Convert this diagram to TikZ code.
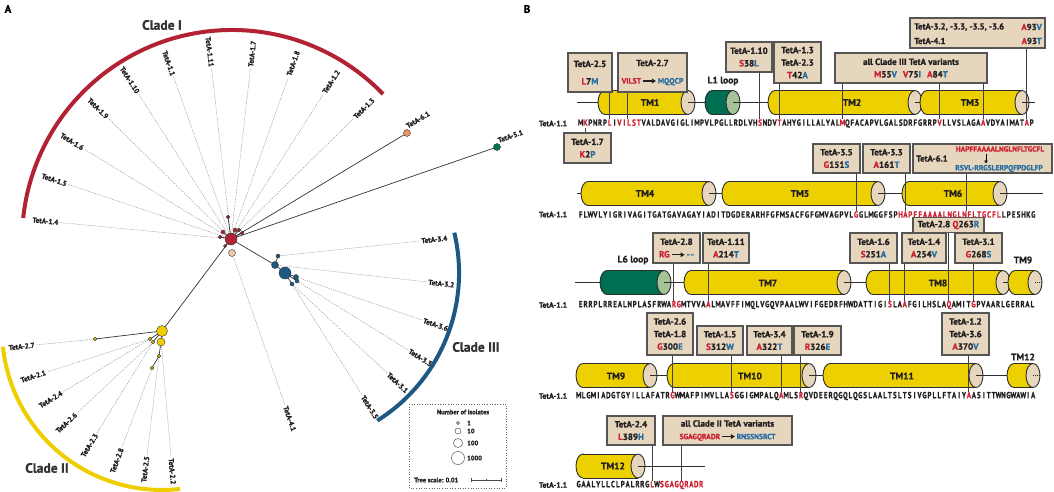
\documentclass[tikz,border=0pt]{standalone}
\usepackage{fontspec}
\setmainfont{PT Sans}[BoldFont={PT Sans Bold}, BoldFeatures={FakeBold=1.2}]
\usepackage{graphicx}
\usetikzlibrary{arrows.meta,calc}
\definecolor{boxfill}{RGB}{230,214,190}
\definecolor{boxdraw}{RGB}{85,85,85}
\definecolor{cyldraw}{RGB}{45,45,45}
\definecolor{tmyellow}{RGB}{237,208,0}
\definecolor{tmend}{RGB}{230,214,190}
\definecolor{loopgreen}{RGB}{0,110,80}
\definecolor{loopend}{RGB}{165,195,150}
\definecolor{mutred}{RGB}{205,32,50}
\definecolor{mutblue}{RGB}{40,110,160}
\definecolor{cladeI}{RGB}{178,34,52}
\definecolor{cladeII}{RGB}{238,206,0}
\definecolor{cladeIII}{RGB}{28,88,130}
\definecolor{textdark}{RGB}{35,31,32}
\definecolor{treegray}{RGB}{150,150,150}
\definecolor{nodeorange}{RGB}{232,150,100}
\definecolor{nodegreen}{RGB}{0,120,80}
\definecolor{nodetan}{RGB}{236,205,170}
\newcommand\mutR[1]{\textcolor{mutred}{#1}}
\newcommand\mutB[1]{\textcolor{mutblue}{#1}}
\newcommand\harr{\tikz[baseline=-2.6pt,x=1pt,y=1pt]\draw[line width=1.1pt,-{Triangle[length=4pt,width=4.5pt]}] (0,0)--(13,0);}
\newlength\seqcw
\newcommand\seqchar[1]{\makebox[\seqcw][c]{\scalebox{0.78}[1]{\ifnum`#1>`Z\relax\textcolor{mutred}{\uppercase{#1}}\else#1\fi}}}
\def\seqloop#1{\ifx#1\relax\else\seqchar{#1}\expandafter\seqloop\fi}
\newcommand\seqtext[2]{\setlength\seqcw{#1pt}\seqloop#2\relax}
% cylinder: #1 left x, #2 end-ellipse centre x, #3 centre y, #4 body colour, #5 end colour, #6 inner line style
\newcommand\tmcyl[6]{%
  \filldraw[fill=#4, draw=cyldraw, line width=0.9pt] ({#1+7},#3) ellipse [x radius=7, y radius=12];
  \fill[#4] ({#1+7},{#3-12}) rectangle (#2,{#3+12});
  \draw[cyldraw, line width=0.9pt] ({#1+7},{#3-12}) -- (#2,{#3-12}) ({#1+7},{#3+12}) -- (#2,{#3+12});
  \filldraw[fill=#5, draw=cyldraw, line width=0.9pt] (#2,#3) ellipse [x radius=7, y radius=12];
  \draw[cyldraw, line width=0.9pt, #6] (#2,#3) -- ({#2+7},#3);
}
\begin{document}
\begin{tikzpicture}[x=1pt,y=-1pt,
  mbox/.style={draw=boxdraw, fill=boxfill, line width=1.1pt, inner sep=0pt, align=center, text=textdark, font=\fontsize{9}{12.5}\selectfont\bfseries},
  boxtext/.style={inner sep=0pt, text=textdark, font=\fontsize{8.7}{10}\selectfont\bfseries},
  mutline/.style={draw=black!75, line width=0.9pt},
  seqline/.style={draw=cyldraw, line width=0.9pt},
  seqnode/.style={inner sep=0pt, anchor=west, text=textdark, font=\fontsize{8.8}{9}\selectfont\bfseries},
  rowlab/.style={inner sep=0pt, text=textdark, font=\fontsize{7.8}{9}\selectfont\bfseries},
  tmlab/.style={inner sep=0pt, text=textdark, font=\fontsize{9.5}{10}\selectfont\bfseries},
  leaf/.style={draw=treegray, line width=0.5pt, dash pattern=on 1.2pt off 1.1pt},
  leaflab/.style={inner sep=1.2pt, text=textdark, font=\fontsize{7.2}{8}\selectfont\bfseries},
  branch/.style={draw=black!80, line width=0.7pt},
  tnode/.style={circle, draw=black!80, line width=0.4pt, inner sep=0pt},
  cladelab/.style={inner sep=0pt, text=black!80, font=\fontsize{13.5}{16}\selectfont\bfseries},
  legfont/.style={inner sep=0pt, text=textdark, font=\fontsize{6.5}{7}\selectfont\bfseries},
]
\useasboundingbox (0,0) rectangle (1054,492);
\node[inner sep=0pt, font=\fontsize{11}{13}\selectfont\bfseries] (pA) at (8,9) {A};
\node[inner sep=0pt, font=\fontsize{11}{13}\selectfont\bfseries] (pB) at (527,9) {B};

%%%%%%%%%%%%%%%% PANEL A %%%%%%%%%%%%%%%%
\draw[cladeI, line width=4pt] (383.1,94.1) arc[start angle=-44, end angle=-174, radius=210];
\draw[cladeIII, line width=4pt] (454.3,232.7) arc[start angle=-13.4, end angle=58, radius=174];
\draw[cladeII, line width=4pt] (2.9,346.7) arc[start angle=-186, end angle=-276.5, radius=160];
\node[cladelab] (cl1) at (162,25) {Clade I};
\node[cladelab] (cl2) at (47,468) {Clade II};
\node[cladelab] (cl3) at (476,347) {Clade III};

\coordinate (C) at (231,239);
\coordinate (n61) at (407,133);
\coordinate (n51) at (497,147);
\coordinate (tan) at (232,253);
\coordinate (bl1) at (278,256);
\coordinate (bl2) at (275,265);
\coordinate (bl3) at (285,273);
\coordinate (bl4) at (296,277);
\coordinate (bl5) at (297,281);
\coordinate (bl6) at (292,284);
\coordinate (y0) at (162,331);
\coordinate (y1) at (161,342);
\coordinate (y2) at (150,339);
\coordinate (y3) at (153,342);
\coordinate (y4) at (159,356);
\coordinate (y5) at (152,368);
\coordinate (y6) at (95,339);

\foreach \a/\t [count=\i] in {174.5/1.4, 161.5/1.5, 148.5/1.6, 135.5/1.9, 122.5/1.10, 109.5/1.1, 96.5/1.11}
  \draw[leaf] (C) -- ++({172*cos(\a)},{-172*sin(\a)}) node[pos=1, sloped, anchor=east, leaflab] (lI\i) {TetA-\t};
\foreach \a/\t [count=\i] in {83.5/1.7, 70.5/1.8, 57.5/1.2, 44.5/1.3}
  \draw[leaf] (C) -- ++({172*cos(\a)},{-172*sin(\a)}) node[pos=1, sloped, anchor=west, leaflab] (lIr\i) {TetA-\t};
\draw[leaf] (bl1) -- (420,241) node[pos=1, sloped, anchor=west, leaflab] (l34) {TetA-3.4};
\draw[leaf] (bl2) -- (427,282) node[pos=1, sloped, anchor=west, leaflab] (l32) {TetA-3.2};
\draw[leaf] (bl4) -- (422,320) node[pos=1, sloped, anchor=west, leaflab] (l36) {TetA-3.6};
\draw[leaf] (bl5) -- (408,350) node[pos=1, sloped, anchor=west, leaflab] (l33) {TetA-3.3};
\draw[leaf] (bl6) -- (387,373) node[pos=1, sloped, anchor=west, leaflab] (l31) {TetA-3.1};
\draw[leaf] (bl6) -- (362,395) node[pos=1, sloped, anchor=west, leaflab] (l35) {TetA-3.5};
\draw[leaf] (tan) -- (285,405) node[pos=1, sloped, anchor=west, leaflab] (l41) {TetA-4.1};
\draw[leaf] (y6) -- (36,345) node[pos=1, sloped, anchor=east, leaflab] (l27) {TetA-2.7};
\draw[leaf] (y2) -- (47,372) node[pos=1, sloped, anchor=east, leaflab] (l21) {TetA-2.1};
\draw[leaf] (y2) -- (63,392) node[pos=1, sloped, anchor=east, leaflab] (l24) {TetA-2.4};
\draw[leaf] (y3) -- (77,413) node[pos=1, sloped, anchor=east, leaflab] (l26) {TetA-2.6};
\draw[leaf] (y3) -- (97,433) node[pos=1, sloped, anchor=east, leaflab] (l23) {TetA-2.3};
\draw[leaf] (y5) -- (122,447) node[pos=1, sloped, anchor=east, leaflab] (l28) {TetA-2.8};
\draw[leaf] (y4) -- (147,455) node[pos=1, sloped, anchor=east, leaflab] (l25) {TetA-2.5};
\draw[leaf] (y1) -- (171,457) node[pos=1, sloped, anchor=west, leaflab] (l22) {TetA-2.2};

\draw[branch] (C) -- (n61);
\draw[branch] (C) -- (n51);
\draw[branch] (C) -- (bl2) -- (bl3);
\draw[branch] (bl2) -- (bl1);
\draw[branch] (bl3) -- (bl4) (bl3) -- (bl5) (bl3) -- (bl6);
\draw[branch] (C) -- (y0);
\draw[branch] (y6) -- (y0);
\draw[branch] (y0) -- (y2) (y0) -- (y3) (y0) -- (y1) -- (y4) -- (y5);
\draw[branch] (C) -- (228,217) (C) -- (223,232) (C) -- (220,237) (C) -- (235,230) (C) -- (239,230) (C) -- (242,233) (C) -- (225,246);

\node[tnode, fill=cladeI, minimum size=3.5pt] (rd1) at (228,217) {};
\node[tnode, fill=cladeI, minimum size=4pt] (rd2) at (223,232) {};
\node[tnode, fill=cladeI, minimum size=3.5pt] (rd3) at (220,237) {};
\node[tnode, fill=cladeI, minimum size=4pt] (rd4) at (235,230) {};
\node[tnode, fill=cladeI, minimum size=3.5pt] (rd5) at (239,230) {};
\node[tnode, fill=cladeI, minimum size=3.5pt] (rd6) at (242,233) {};
\node[tnode, fill=cladeI, minimum size=3pt] (rd7) at (225,246) {};
\node[tnode, fill=cladeI, minimum size=12pt] (rd0) at (C) {};
\node[tnode, fill=nodetan, minimum size=7pt] (ntan) at (tan) {};
\node[tnode, fill=nodeorange, minimum size=7pt] (n61n) at (n61) {};
\node[tnode, fill=nodegreen, minimum size=7pt] (n51n) at (n51) {};
\node[leaflab, anchor=south west, rotate=30.8, inner sep=3pt] (l61) at (n61) {TetA-6.1};
\node[leaflab, anchor=south west, rotate=18.9, inner sep=3pt] (l51) at (n51) {TetA-5.1};
\node[tnode, fill=cladeIII, minimum size=4pt] (bl1n) at (bl1) {};
\node[tnode, fill=cladeIII, minimum size=7pt] (bl2n) at (bl2) {};
\node[tnode, fill=cladeIII, minimum size=12pt] (bl3n) at (bl3) {};
\node[tnode, fill=cladeIII, minimum size=5pt] (bl4n) at (bl4) {};
\node[tnode, fill=cladeIII, minimum size=4pt] (bl5n) at (bl5) {};
\node[tnode, fill=cladeIII, minimum size=4pt] (bl6n) at (bl6) {};
\node[tnode, fill=cladeII, minimum size=11pt] (y0n) at (y0) {};
\node[tnode, fill=cladeII, minimum size=8pt] (y1n) at (y1) {};
\node[tnode, fill=cladeII, minimum size=3.5pt] (y2n) at (y2) {};
\node[tnode, fill=cladeII, minimum size=3.5pt] (y3n) at (y3) {};
\node[tnode, fill=cladeII, minimum size=3.5pt] (y4n) at (y4) {};
\node[tnode, fill=cladeII, minimum size=3.5pt] (y5n) at (y5) {};
\node[tnode, fill=cladeII, minimum size=3.5pt] (y6n) at (y6) {};

\draw[black!60, line width=0.6pt, dotted] (409,404) rectangle (506,488);
\node[legfont] (legt) at (463,412) {Number of isolates};
\node[tnode, fill=white, minimum size=3pt] (lg1) at (458,423) {};
\node[tnode, fill=white, minimum size=6pt] (lg2) at (458,431) {};
\node[tnode, fill=white, minimum size=9pt] (lg3) at (458,443) {};
\node[tnode, fill=white, minimum size=13pt] (lg4) at (458,458) {};
\node[legfont, anchor=west] (lg1t) at (467,423) {1};
\node[legfont, anchor=west] (lg2t) at (467,431) {10};
\node[legfont, anchor=west] (lg3t) at (467,443) {100};
\node[legfont, anchor=west] (lg4t) at (467,458) {1000};
\node[legfont, anchor=west] (tsc) at (414,480) {Tree scale: 0.01};
\coordinate (sb1) at (471,480);
\coordinate (sb2) at (501,480);
\draw[black!70, line width=0.6pt] (sb1) -- (sb2) (sb1) ++(0,-2) -- ++(0,4) (sb2) ++(0,-2) -- ++(0,4) (486,479) -- (486,481);

%%%%%%%%%%%%%%%% PANEL B %%%%%%%%%%%%%%%%
\coordinate (w1a) at (577,102.5); \coordinate (w1b) at (1035,102.5);
\draw[seqline] (w1a) -- (w1b);
\tmcyl{598}{688}{102.5}{tmyellow}{tmend}{solid}
\tmcyl{705}{733}{102.5}{loopgreen}{loopend}{solid}
\tmcyl{768}{915}{102.5}{tmyellow}{tmend}{solid}
\tmcyl{920}{1022}{102.5}{tmyellow}{tmend}{solid}
\node[tmlab] (tm1) at (650,102.5) {TM1};
\node[tmlab] (lp1) at (723,81) {L1 loop};
\node[tmlab] (tm2) at (852,102.5) {TM2};
\node[tmlab] (tm3) at (970,102.5) {TM3};
\node[rowlab] (rl1) at (553,123.5) {TetA-1.1};
\node[seqnode] (s1) at (578,123.5) {\seqtext{4.85}{MkPNRPlIvilstVALDAVGIGLIMPVLPGLLRDLVHsNDVtAHYGILLALYALmQFACAPVLGALSDRFGRRPvLLVSLAGAaVDYAIMATaP}};
\coordinate (r1K2) at ({578+1.5*4.85},128);
\coordinate (r1L7) at ({578+6.5*4.85},119.5);
\coordinate (r1VI) at (627,119.5);
\coordinate (r1S38) at ({578+37.5*4.85},119.5);
\coordinate (r1T42) at ({578+41.5*4.85},119.5);
\coordinate (r1M55) at ({578+54.5*4.85},119.5);
\coordinate (r1V75) at ({578+74.5*4.85},119.5);
\coordinate (r1A84) at ({578+83.5*4.85},119.5);
\coordinate (r1A93) at ({578+92.5*4.85},119.5);
\node[mbox, minimum width=44pt, minimum height=39pt] (b25) at (590,72.5) {TetA-2.5\\[5pt]\mutR{L}7\mutB{M}};
\node[mbox, minimum width=69pt, minimum height=39pt] (b27) at (652.5,72.5) {TetA-2.7\\[5pt]{\fontsize{7.8}{9}\selectfont\mutR{VILST}\,\harr\,\mutB{MQQCP}}};
\node[mbox, minimum width=46pt, minimum height=30pt] (b110) at (749,57) {TetA-1.10\\\mutR{S}38\mutB{L}};
\node[mbox, minimum width=47pt, minimum height=41pt] (b13) at (797.5,62.5) {TetA-1.3\\TetA-2.3\\\mutR{T}42\mutB{A}};
\node[mbox, minimum width=152pt, minimum height=30pt] (bC3) at (911,68) {all Clade III TetA variants\\\mutR{M}55\mutB{V}\hspace{6pt}\mutR{V}75\mutB{I}\hspace{6pt}\mutR{A}84\mutB{T}};
\node[mbox, minimum width=135pt, minimum height=30pt] (bA93) at (977.5,33) {};
\node[boxtext, anchor=west] (ta1) at (914,27) {TetA-3.2, -3.3, -3.5, -3.6};
\node[boxtext, anchor=east] (ta2) at (1042,27) {\mutR{A}93\mutB{V}};
\node[boxtext, anchor=west] (ta3) at (914,41) {TetA-4.1};
\node[boxtext, anchor=east] (ta4) at (1042,41) {\mutR{A}93\mutB{T}};
\node[mbox, minimum width=47pt, minimum height=30pt] (b17) at (587.5,148) {TetA-1.7\\\mutR{K}2\mutB{P}};
\draw[mutline] (r1L7 |- b25.south) -- (r1L7);
\draw[mutline] (r1VI |- b27.south) -- (r1VI);
\draw[mutline] (r1S38 |- b110.south) -- (r1S38);
\draw[mutline] (r1T42 |- b13.south) -- (r1T42);
\draw[mutline] (r1M55 |- bC3.south) -- (r1M55);
\draw[mutline] (r1V75 |- bC3.south) -- (r1V75);
\draw[mutline] (r1A84 |- bC3.south) -- (r1A84);
\draw[mutline] (r1A93 |- bA93.south) -- (r1A93);
\draw[mutline] (r1K2 |- b17.north) -- (r1K2);

\coordinate (w2a) at (577,193.5); \coordinate (w2b) at (1043,193.5);
\draw[seqline] (w2a) -- (w2b);
\tmcyl{581}{709}{193.5}{tmyellow}{tmend}{solid}
\tmcyl{722}{878}{193.5}{tmyellow}{tmend}{solid}
\tmcyl{902}{1000}{193.5}{tmyellow}{tmend}{solid}
\node[tmlab] (tm4) at (645,193.5) {TM4};
\node[tmlab] (tm5) at (800,193.5) {TM5};
\node[tmlab] (tm6) at (953,193.5) {TM6};
\node[rowlab] (rl2) at (553,214.5) {TetA-1.1};
\node[seqnode] (s2) at (578,214.5) {\seqtext{4.92}{FLWVLYIGRIVAGITGATGAVAGAYIADITDGDERARHFGFMSACFGFGMVAGPVLgGLMGGFSPhapffaaaalnglnfltgcflLPESHKG}};
\coordinate (r2G151) at ({578+56.5*4.92},210.5);
\coordinate (r2A161) at ({578+66.5*4.92},210.5);
\coordinate (r2HAP) at (966,210.5);
\node[mbox, minimum width=47pt, minimum height=29pt] (b35) at (836.5,158.5) {TetA-3.5\\\mutR{G}151\mutB{S}};
\node[mbox, minimum width=47pt, minimum height=29pt] (b33) at (886.5,158.5) {TetA-3.3\\\mutR{A}161\mutB{T}};
\node[mbox, minimum width=139pt, minimum height=29pt] (b61) at (982.5,158.5) {};
\node[boxtext] (t61) at (932,158.5) {TetA-6.1};
\node[boxtext, font=\fontsize{7.5}{8}\selectfont\bfseries, text=mutred] (t61a) at (1000,149) {HAPFFAAAALNGLNFLTGCFL};
\node[boxtext, font=\fontsize{7.5}{8}\selectfont\bfseries, text=mutblue] (t61b) at (999,168.5) {RSVL-RRGSLERPQFPDGLFP};
\coordinate (a61a) at (986,153.5); \coordinate (a61b) at (986,163.5);
\draw[line width=0.8pt, -{Triangle[length=3pt,width=3.5pt]}] (a61a) -- (a61b);
\draw[mutline] (r2G151 |- b35.south) -- (r2G151);
\draw[mutline] (r2A161 |- b33.south) -- (r2A161);
\draw[mutline] (r2HAP |- b61.south) -- (r2HAP);

\coordinate (w3a) at (575,282.5); \coordinate (w3b) at (1035,282.5);
\draw[seqline] (w3a) -- (w3b);
\tmcyl{600}{664}{282.5}{loopgreen}{loopend}{solid}
\tmcyl{684}{844}{282.5}{tmyellow}{tmend}{solid}
\tmcyl{866}{1003}{282.5}{tmyellow}{tmend}{solid}
\tmcyl{1008}{1035}{282.5}{tmyellow}{tmend}{densely dotted}
\node[tmlab] (lp6) at (633,260) {L6 loop};
\node[tmlab] (tm7) at (768,283) {TM7};
\node[tmlab] (tm8) at (938,283) {TM8};
\node[tmlab] (tm9a) at (1023,260) {TM9};
\node[rowlab] (rl3) at (553,305) {TetA-1.1};
\node[seqnode] (s3) at (578,305) {\seqtext{4.91}{ERRPLRREALNPLASFRWArgMTVVAaLMAVFFIMQLVGQVPAALWVIFGEDRFHWDATTIGIsLAaFGILHSLAqAMITgPVAARLGERRAL}};
\coordinate (r3RG) at ({578+19.5*4.91},301);
\coordinate (r3A214) at ({578+26.5*4.91},301);
\coordinate (r3S251) at ({578+63.5*4.91},301);
\coordinate (r3A254) at ({578+66.5*4.91},301);
\coordinate (r3Q263) at ({578+75.5*4.91},301);
\coordinate (r3G268) at ({578+80.5*4.91},301);
\node[mbox, minimum width=71pt, minimum height=15pt] (b28b) at (948.5,225) {TetA-2.8 \mutR{Q}263\mutB{R}};
\node[mbox, minimum width=47pt, minimum height=30pt] (b28) at (676.5,248) {TetA-2.8\\\mutR{RG}\,\harr\,\mutB{-\kern0.8pt-}};
\node[mbox, minimum width=46pt, minimum height=30pt] (b111) at (726,248) {TetA-1.11\\\mutR{A}214\mutB{T}};
\node[mbox, minimum width=47pt, minimum height=30pt] (b16) at (873.5,248) {TetA-1.6\\\mutR{S}251\mutB{A}};
\node[mbox, minimum width=44pt, minimum height=30pt] (b14) at (924,248) {TetA-1.4\\\mutR{A}254\mutB{V}};
\node[mbox, minimum width=47pt, minimum height=30pt] (b31) at (978.5,248) {TetA-3.1\\\mutR{G}268\mutB{S}};
\draw[mutline] (r3RG |- b28.south) -- (r3RG);
\draw[mutline] (r3A214 |- b111.south) -- (r3A214);
\draw[mutline] (r3S251 |- b16.south) -- (r3S251);
\draw[mutline] (r3A254 |- b14.south) -- (r3A254);
\draw[mutline] (r3Q263 |- b28b.south) -- (r3Q263);
\draw[mutline] (r3G268 |- b31.south) -- (r3G268);

\coordinate (w4a) at (583,375.5); \coordinate (w4b) at (1033,375.5);
\draw[seqline] (w4a) -- (w4b);
\tmcyl{576}{650}{375.5}{tmyellow}{tmend}{solid}
\tmcyl{667}{809}{375.5}{tmyellow}{tmend}{solid}
\tmcyl{823}{976}{375.5}{tmyellow}{tmend}{solid}
\tmcyl{1007}{1033}{375.5}{tmyellow}{tmend}{densely dotted}
\node[tmlab] (tm9) at (616,376) {TM9};
\node[tmlab] (tm10) at (750,376) {TM10};
\node[tmlab] (tm11) at (902,376) {TM11};
\node[tmlab] (tm12a) at (1023,357) {TM12};
\node[rowlab] (rl4) at (553,396) {TetA-1.1};
\node[seqnode] (s4) at (576,396) {\seqtext{4.94}{MLGMIADGTGYILLAFATRgWMAFPIMVLLAsGGIGMPALQaMLSrQVDEERQGQLQGSLAALTSLTSIVGPLLFTAIYaASITTWNGWAWIA}};
\coordinate (r4G300) at ({576+19.5*4.94},392);
\coordinate (r4S312) at ({576+31.5*4.94},392);
\coordinate (r4A322) at ({576+41.5*4.94},392);
\coordinate (r4R326) at ({576+45.5*4.94},392);
\coordinate (r4A370) at ({576+79.5*4.94},392);
\node[mbox, minimum width=46pt, minimum height=42pt] (b26) at (670,334) {TetA-2.6\\TetA-1.8\\\mutR{G}300\mutB{E}};
\node[mbox, minimum width=46pt, minimum height=29pt] (b15) at (720,340.5) {TetA-1.5\\\mutR{S}312\mutB{W}};
\node[mbox, minimum width=45pt, minimum height=29pt] (b34) at (769.5,340.5) {TetA-3.4\\\mutR{A}322\mutB{T}};
\node[mbox, minimum width=47pt, minimum height=29pt] (b19) at (817.5,340.5) {TetA-1.9\\\mutR{R}326\mutB{E}};
\node[mbox, minimum width=47pt, minimum height=42pt] (b12) at (965.5,334) {TetA-1.2\\TetA-3.6\\\mutR{A}370\mutB{V}};
\draw[mutline] (r4G300 |- b26.south) -- (r4G300);
\draw[mutline] (r4S312 |- b15.south) -- (r4S312);
\draw[mutline] (r4A322 |- b34.south) -- (r4A322);
\draw[mutline] (r4R326 |- b19.south) -- (r4R326);
\draw[mutline] (r4A370 |- b12.south) -- (r4A370);

\coordinate (w5a) at (638,466); \coordinate (w5b) at (705,466);
\draw[seqline] (w5a) -- (w5b);
\tmcyl{576}{638}{466}{tmyellow}{tmend}{solid}
\node[tmlab] (tm12) at (613,466) {TM12};
\node[rowlab] (rl5) at (553,485) {TetA-1.1};
\node[seqnode] (s5) at (576,485) {\seqtext{4.9}{GAALYLLCLPALRRGlWsgagqradr}};
\coordinate (r5L389) at ({576+15.5*4.9},481);
\coordinate (r5SG) at ({576+21.5*4.9},481);
\node[mbox, minimum width=48pt, minimum height=29pt] (b24) at (631,430.5) {TetA-2.4\\\mutR{L}389\mutB{H}};
\node[mbox, minimum width=129pt, minimum height=29pt] (bC2) at (727.5,430.5) {all Clade II TetA variants\\{\fontsize{7.5}{9}\selectfont\mutR{SGAGQRADR}\,\harr\,\mutB{RNSSNSRCT}}};
\draw[mutline] (r5L389 |- b24.south) -- (r5L389);
\draw[mutline] (r5SG |- bC2.south) -- (r5SG);
\end{tikzpicture}
\end{document}
